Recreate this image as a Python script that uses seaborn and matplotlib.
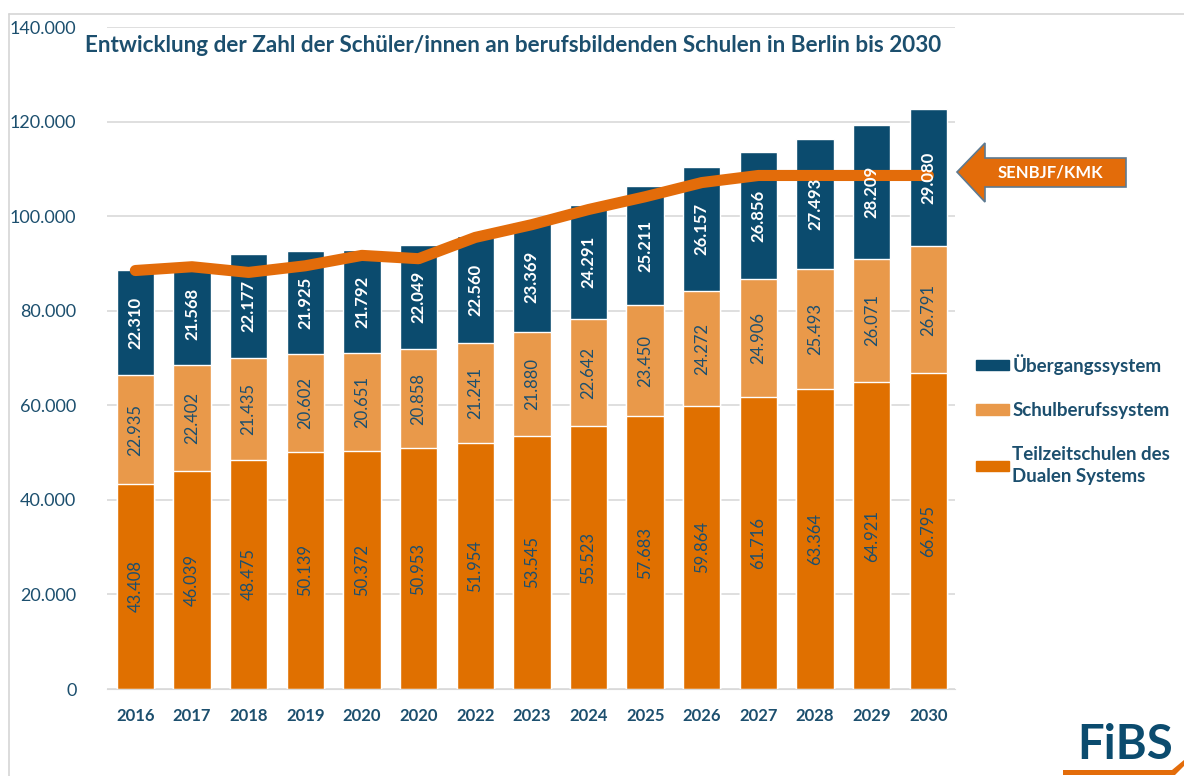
import numpy as np
import pandas as pd
import matplotlib
matplotlib.use('Agg')
import matplotlib.pyplot as plt
import seaborn as sns
from matplotlib.patches import Polygon, Patch
from matplotlib.lines import Line2D
from matplotlib.ticker import FuncFormatter

# data
years = ['2016', '2017', '2018', '2019', '2020', '2020', '2022', '2023',
         '2024', '2025', '2026', '2027', '2028', '2029', '2030']
teilzeit = [43408, 46039, 48475, 50139, 50372, 50953, 51954, 53545,
            55523, 57683, 59864, 61716, 63364, 64921, 66795]
schulberuf = [22935, 22402, 21435, 20602, 20651, 20858, 21241, 21880,
              22642, 23450, 24272, 24906, 25493, 26071, 26791]
uebergang = [22310, 21568, 22177, 21925, 21792, 22049, 22560, 23369,
             24291, 25211, 26157, 26856, 27493, 28209, 29080]
# SENBJF/KMK projection (line), estimated
senbjf = [88500, 89300, 88100, 89500, 91700, 91000, 95500, 98200,
          101400, 104100, 107100, 108600, 108600, 108600, 108600]

c_blue = '#0b4b6e'
c_light = '#e9994a'
c_orange = '#e07000'
c_line = '#e36c0a'
c_text = '#1c4f6e'

df = pd.DataFrame({'pos': range(len(years)), 'teil': teilzeit,
                   'schul': schulberuf, 'ueber': uebergang})
df['mid'] = df['teil'] + df['schul']
df['total'] = df['mid'] + df['ueber']

sns.set_style('white')
plt.rcParams['font.family'] = ['Lato', 'DejaVu Sans']

fig = plt.figure(figsize=(11.84, 7.76), dpi=100)
ax = fig.add_axes([107 / 1184, 1 - 689 / 776, 848 / 1184, 662 / 776])

# stacked bars: draw cumulative totals, then overlay lower parts
sns.barplot(data=df, x='pos', y='total', color=c_blue, width=0.66,
            saturation=1, ax=ax, zorder=2)
sns.barplot(data=df, x='pos', y='mid', color=c_light, width=0.66,
            saturation=1, ax=ax, zorder=2)
sns.barplot(data=df, x='pos', y='teil', color=c_orange, width=0.66,
            saturation=1, ax=ax, zorder=2)

sns.lineplot(x=df['pos'], y=senbjf, color=c_line, linewidth=8,
             solid_capstyle='round', ax=ax, zorder=3, sort=False)

fmt = lambda v: f'{v:,.0f}'.replace(',', '.')
for i, r in df.iterrows():
    ax.text(i, r['teil'] / 2, fmt(r['teil']), rotation=90, ha='center',
            va='center', color=c_text, fontsize=12, zorder=4)
    ax.text(i, r['teil'] + r['schul'] / 2, fmt(r['schul']), rotation=90,
            ha='center', va='center', color=c_text, fontsize=12, zorder=4)
    ax.text(i, r['mid'] + r['ueber'] / 2, fmt(r['ueber']), rotation=90,
            ha='center', va='center', color='white', fontsize=12,
            fontweight='bold', zorder=4)

ax.set_ylim(0, 140000)
ax.set_xlim(-0.5, 14.47)
ax.set_yticks(np.arange(0, 140001, 20000))
ax.yaxis.set_major_formatter(FuncFormatter(lambda v, p: fmt(v)))
ax.set_xticks(range(len(years)))
ax.set_xticklabels(years, fontweight='bold')
ax.tick_params(axis='x', colors=c_text, labelsize=12, length=0, pad=14)
ax.tick_params(axis='y', colors=c_text, labelsize=13, length=0, pad=22)
ax.set_xlabel('')
ax.set_ylabel('')
ax.grid(axis='y', color='#d9d9d9', linewidth=1.2, zorder=0)
ax.set_axisbelow(True)
sns.despine(ax=ax, left=True)
ax.spines['bottom'].set_color('#d9d9d9')

# legend on the right
handles = [Patch(color=c_blue), Patch(color=c_light), Patch(color=c_orange)]
labels = ['Übergangssystem', 'Schulberufssystem', 'Teilzeitschulen des\nDualen Systems']
leg = fig.legend(handles, labels, loc='upper left',
                 bbox_to_anchor=(959 / 1184, 1 - 337 / 776), frameon=False,
                 fontsize=13.5, handlelength=1.75, handleheight=0.5,
                 handletextpad=0.2, labelspacing=1.45)
for t in leg.get_texts():
    t.set_color(c_text)
    t.set_fontweight('bold')
    t.set_linespacing(1.35)

# title
fig.text(85 / 1184, 1 - 45 / 776,
         'Entwicklung der Zahl der Schüler/innen an berufsbildenden Schulen in Berlin bis 2030',
         ha='left', va='center', fontsize=16.2, fontweight='bold', color=c_text)

# arrow for SENBJF/KMK
def px(x, y):
    return (x / 1184, 1 - y / 776)

arrow = Polygon([px(957, 172), px(985, 143), px(985, 158), px(1126, 158),
                 px(1126, 187), px(985, 187), px(985, 202)],
                closed=True, transform=fig.transFigure, facecolor=c_line,
                edgecolor='#5d7a91', linewidth=1.2)
fig.add_artist(arrow)
fig.text(1050 / 1184, 1 - 173 / 776, 'SENBJF/KMK', ha='center', va='center',
         color='white', fontsize=12, fontweight='bold')

# frame lines
fig.add_artist(Line2D([9 / 1184, 1], [1 - 14 / 776] * 2, color='#d5d5d5',
                      linewidth=1.2, transform=fig.transFigure))
fig.add_artist(Line2D([9 / 1184] * 2, [1 - 14 / 776, 0], color='#d5d5d5',
                      linewidth=1.2, transform=fig.transFigure))

# FiBS logo
fig.text(1125 / 1184, 1 - 745 / 776, 'FiBS', ha='center', va='center',
         color=c_blue, fontsize=34, fontweight='bold')
swoosh = Polygon([px(1063, 770), px(1172, 770), px(1184, 760), px(1184, 766),
                  px(1175, 775), px(1063, 775)], closed=True,
                 transform=fig.transFigure, facecolor=c_line, edgecolor='none')
fig.add_artist(swoosh)

plt.savefig('out.png', dpi=100)
